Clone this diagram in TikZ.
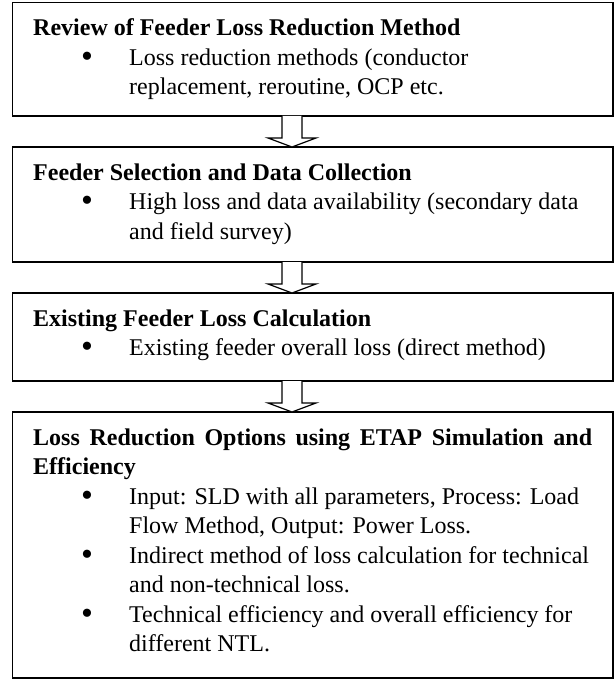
\documentclass[tikz,border=0pt]{standalone}
\usepackage{fontspec}
\setmainfont{Liberation Serif}
\usetikzlibrary{calc}
\begin{document}
\begin{tikzpicture}[x=1pt,y=-1pt,
  box/.style={draw,line width=1.4pt,inner sep=0pt,outer sep=0pt,anchor=north west,minimum width=600.3pt},
  ttl/.style={anchor=base west,inner sep=0pt,font=\fontsize{24}{28}\selectfont\bfseries},
  txt/.style={anchor=base west,inner sep=0pt,font=\fontsize{24}{28}\selectfont},
  blt/.style={anchor=base,inner sep=0pt,font=\fontsize{34}{36}\selectfont},
  barrow/.style={draw,fill=white,line width=1.2pt,line join=miter}]
\useasboundingbox (0,0) rectangle (615,679);

% boxes
\node[box,minimum height=113.3pt] (b1) at (12.7,2.7) {};
\node[box,minimum height=115pt] (b2) at (12.7,147) {};
\node[box,minimum height=88pt] (b3) at (12.7,293) {};
\node[box,minimum height=266pt] (b4) at (12.7,412) {};

% block arrows
\coordinate (ax) at (292,0);
\newcommand\blockarrow[2]{%
  \draw[barrow] ([xshift=-10pt]ax |- #1.south) -- ([xshift=-10pt,yshift=9pt]ax |- #2.north)
    -- ([xshift=-24pt,yshift=9pt]ax |- #2.north) -- (ax |- #2.north)
    -- ([xshift=24pt,yshift=9pt]ax |- #2.north) -- ([xshift=10pt,yshift=9pt]ax |- #2.north)
    -- ([xshift=10pt]ax |- #1.south);}
\blockarrow{b1}{b2}
\blockarrow{b2}{b3}
\blockarrow{b3}{b4}

% box 1
\node[ttl] (t1) at (33,35.7) {Review of Feeder Loss Reduction Method};
\node[blt] (p1) at (87,67.2) {•};
\node[txt] (l11) at (129,65.2) {Loss reduction methods (conductor};
\node[txt] (l12) at (129,94.7) {replacement, reroutine, OCP etc.};

% box 2
\node[ttl] (t2) at (33,180) {Feeder Selection and Data Collection};
\node[blt] (p2) at (87,211.5) {•};
\node[txt] (l21) at (129,209.5) {High loss and data availability (secondary data};
\node[txt] (l22) at (129,239) {and field survey)};

% box 3
\node[ttl] (t3) at (33,326) {Existing Feeder Loss Calculation};
\node[blt] (p3) at (87,357.5) {•};
\node[txt] (l31) at (129,355.5) {Existing feeder overall loss (direct method)};

% box 4
\node[ttl] (t4) at (33,445) {\makebox[559pt][s]{Loss Reduction Options using ETAP Simulation and}};
\node[ttl] (t4b) at (33,474.5) {Efficiency};
\node[blt] (p41) at (87,506) {•};
\node[txt] (l41) at (129,504) {Input: SLD with all parameters, Process: Load};
\node[txt] (l42) at (129,533.5) {Flow Method, Output: Power Loss.};
\node[blt] (p42) at (87,565) {•};
\node[txt] (l43) at (129,563) {Indirect method of loss calculation for technical};
\node[txt] (l44) at (129,592.5) {and non-technical loss.};
\node[blt] (p43) at (87,624) {•};
\node[txt] (l45) at (129,622) {Technical efficiency and overall efficiency for};
\node[txt] (l46) at (129,651.5) {different NTL.};
\end{tikzpicture}
\end{document}
